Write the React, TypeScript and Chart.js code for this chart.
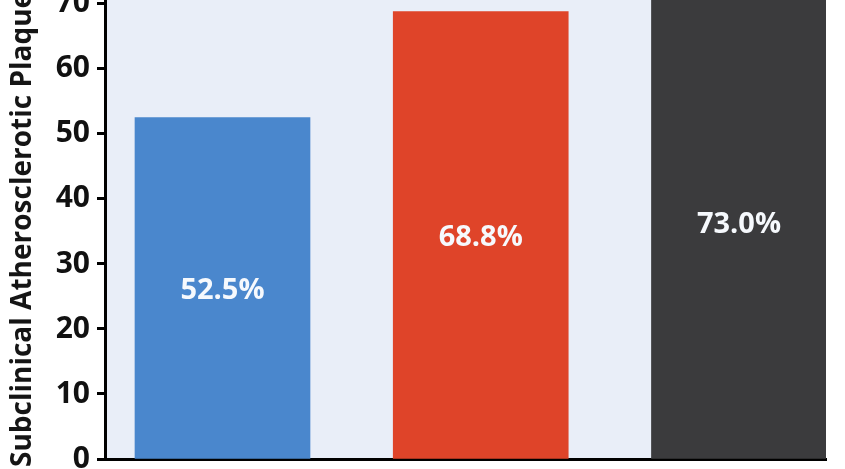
import React, { useEffect, useRef } from "react";
import { Chart, registerables } from "chart.js";

Chart.register(...registerables);

const categories: string[] = ["Group 1", "Group 2", "Group 3"];
const categoryPositions: number[] = [0, 1, 2];
const plaqueValues: number[] = [52.5, 68.8, 73.0];
const barColors: string[] = ["#4a87cd", "#df4429", "#3b3b3d"];
const yTickValues: number[] = [0, 10, 20, 30, 40, 50, 60, 70];
const yAxisTitle = "Subclinical Atherosclerotic Plaques";

const FONT = "'Open Sans', 'DejaVu Sans', sans-serif";

export default function App() {
  const canvasRef = useRef<HTMLCanvasElement | null>(null);

  useEffect(() => {
    const canvas = canvasRef.current;
    if (!canvas) return;

    const bgPlugin = {
      id: "plotBg",
      beforeDraw(chart: any) {
        const { ctx, chartArea } = chart;
        ctx.save();
        ctx.fillStyle = "#ffffff";
        ctx.fillRect(0, 0, chart.width, chart.height);
        ctx.fillStyle = "#e9eef8";
        ctx.fillRect(chartArea.left, chartArea.top, chartArea.right - chartArea.left, chartArea.bottom - chartArea.top);
        ctx.restore();
      },
    };

    const labelPlugin = {
      id: "valueLabels",
      afterDatasetsDraw(chart: any) {
        const { ctx } = chart;
        const meta = chart.getDatasetMeta(0);
        ctx.save();
        ctx.fillStyle = "#f6f9fd";
        ctx.font = `bold 29px ${FONT}`;
        ctx.textAlign = "center";
        ctx.textBaseline = "middle";
        meta.data.forEach((el: any, i: number) => {
          const y = (el.y + el.base) / 2 + 3;
          ctx.fillText(plaqueValues[i].toFixed(1) + "%", el.x, y);
        });
        ctx.restore();
      },
    };

    const titlePlugin = {
      id: "yTitle",
      afterDraw(chart: any) {
        const { ctx, chartArea } = chart;
        ctx.save();
        ctx.translate(23, chartArea.bottom + 8);
        ctx.rotate(-Math.PI / 2);
        ctx.fillStyle = "#151515";
        ctx.font = `bold 28px ${FONT}`;
        ctx.textAlign = "left";
        ctx.textBaseline = "middle";
        ctx.fillText(yAxisTitle, 0, 0);
        ctx.restore();
      },
    };

    const chart = new Chart(canvas, {
      type: "bar",
      data: {
        labels: categories,
        datasets: [
          {
            label: yAxisTitle,
            data: categoryPositions.map((x, i) => ({ x, y: plaqueValues[i] })),
            backgroundColor: barColors,
            borderWidth: 0,
            barThickness: 175,
          } as any,
        ],
      },
      options: {
        animation: false,
        responsive: false,
        maintainAspectRatio: false,
        layout: { padding: { left: 0, right: 19, top: 0, bottom: 0 } },
        plugins: {
          legend: { display: false },
          tooltip: { enabled: false },
          title: { display: false },
        },
        scales: {
          x: {
            type: "linear",
            offset: false,
            min: -0.455,
            max: 2.337,
            ticks: { display: false },
            grid: { display: false, drawTicks: false },
            border: { display: true, color: "#000000", width: 3 },
            afterFit: (scale: any) => {
              scale.height = 10;
              scale.paddingLeft = 0;
              scale.paddingRight = 0;
            },
          },
          y: {
            min: 0,
            max: 70.6,
            ticks: {
              stepSize: 10,
              includeBounds: false,
              padding: 7,
              color: "#111111",
              font: { family: FONT, size: 30, weight: "bold" },
            },
            afterBuildTicks: (scale: any) => {
              scale.ticks = yTickValues.map((v) => ({ value: v }));
            },
            grid: {
              drawOnChartArea: false,
              drawTicks: true,
              tickLength: 8,
              tickWidth: 3,
              tickColor: "#000000",
            },
            border: { display: true, color: "#000000", width: 3 },
            afterFit: (scale: any) => {
              scale.width = 105;
              scale.paddingTop = 0;
              scale.paddingBottom = 0;
            },
          },
        },
      } as any,
      plugins: [bgPlugin, labelPlugin, titlePlugin],
    });

    return () => chart.destroy();
  }, []);

  return (
    <div style={{ position: "fixed", left: 0, top: 0, width: 845, height: 469 }}>
      <canvas ref={canvasRef} width={845} height={469} style={{ width: 845, height: 469, display: "block" }} />
    </div>
  );
}
